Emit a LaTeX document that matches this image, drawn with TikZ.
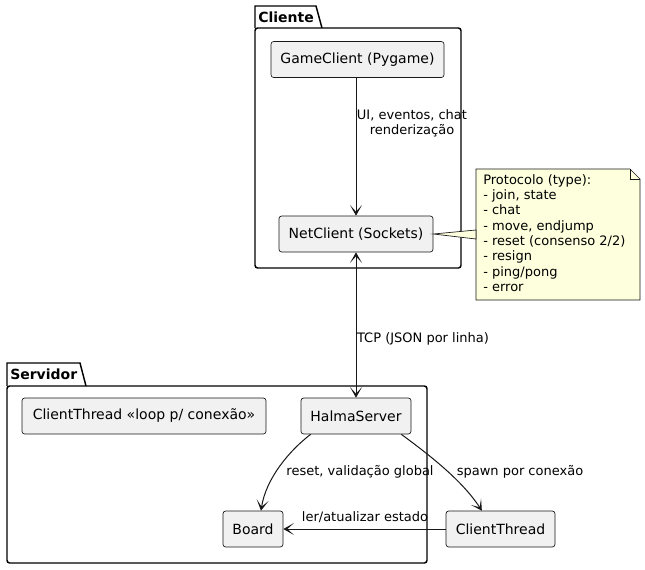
\documentclass[tikz,border=0pt]{standalone}
\usepackage{fontspec}
\setmainfont{DejaVu Sans}
\usetikzlibrary{arrows.meta}
\definecolor{boxfill}{HTML}{F1F1F1}
\definecolor{boxline}{HTML}{181818}
\definecolor{notefill}{HTML}{FEFFDD}
\begin{document}
\begin{tikzpicture}[x=0.75pt,y=-0.75pt,
  comp/.style={draw=boxline,line width=0.5pt,fill=boxfill,rounded corners=2pt,
    minimum height=27pt,inner sep=0pt,font=\fontsize{10.5pt}{12pt}\selectfont},
  pkg/.style={draw=black,line width=1.1pt},
  pkgtitle/.style={font=\fontsize{10.5pt}{12pt}\selectfont\bfseries,anchor=west,inner sep=0pt},
  lbl/.style={font=\fontsize{9.75pt}{11.25pt}\selectfont,inner sep=0pt,align=center},
  tip/.tip={Stealth[length=8pt,width=9pt,inset=5pt]},
  conn/.style={draw=boxline,line width=0.75pt,-tip},
]
\useasboundingbox[fill=white] (0,0) rectangle (645,569);
% Cliente package
\draw[pkg] (255,28) -- (255,6) -- (316,6) -- (322,28);
\draw[pkg,rounded corners=2pt] (255,28) -- (461,28) -- (461,268) -- (255,268) -- cycle;
\node[pkgtitle] (tcli) at (258,17) {Cliente};
% Servidor package
\draw[pkg] (7,386) -- (7,363) -- (80,363) -- (86,386);
\draw[pkg,rounded corners=2pt] (7,386) -- (427,386) -- (427,563) -- (7,563) -- cycle;
\node[pkgtitle] (tsrv) at (10,374) {Servidor};
% components
\node[comp,minimum width=129.75pt] (gc) at (357.5,59.5) {GameClient (Pygame)};
\node[comp,minimum width=115.5pt] (nc) at (356,234) {NetClient (Sockets)};
\node[comp,minimum width=183pt] (ctl) at (144,416) {ClientThread «loop p/ conexão»};
\node[comp,minimum width=82.5pt] (hs) at (356,416) {HalmaServer};
\node[comp,minimum width=45pt] (bd) at (253,529) {Board};
\node[comp,minimum width=81.75pt] (ct) at (500.5,529) {ClientThread};
% note
\draw[draw=boxline,line width=0.5pt,fill=notefill] (476,169) -- (630,169) -- (640,179) -- (640,300) -- (476,300) -- cycle;
\draw[draw=boxline,line width=0.5pt] (630,169) -- (630,179) -- (640,179);
\node[anchor=north west,inner sep=0pt,align=left,font=\fontsize{9.75pt}{11.5pt}\selectfont] (note) at (483,174)
 {Protocolo (type):\\- join, state\\- chat\\- move, endjump\\- reset (consenso 2/2)\\- resign\\- ping/pong\\- error};
\coordinate (nt1) at (476,230);
\coordinate (nt2) at (476,239);
\draw[draw=boxline,line width=0.5pt,fill=notefill] (nc.east) -- (nt1) -- (nt2) -- cycle;
% edges
\draw[conn] (gc.south -| nc.north) -- (nc.north);
\node[lbl] (l1) at (412,123) {UI, eventos, chat\\renderização};
\draw[conn,tip-tip] (nc.south) -- (hs.north);
\node[lbl] (l2) at (423,339) {TCP (JSON por linha)};
\draw[conn] ([xshift=-34]hs.south) .. controls (290,450) and (266,478) .. ([xshift=6]bd.north);
\node[lbl] (l3) at (360,472) {reset, validação global};
\draw[conn] ([xshift=34]hs.south) .. controls (428,454) and (462,480) .. ([xshift=-14]ct.north);
\node[lbl] (l4) at (520,472) {spawn por conexão};
\draw[conn] (ct.west) -- (bd.east);
\node[lbl] (l5) at (365,517) {ler/atualizar estado};
\end{tikzpicture}
\end{document}
